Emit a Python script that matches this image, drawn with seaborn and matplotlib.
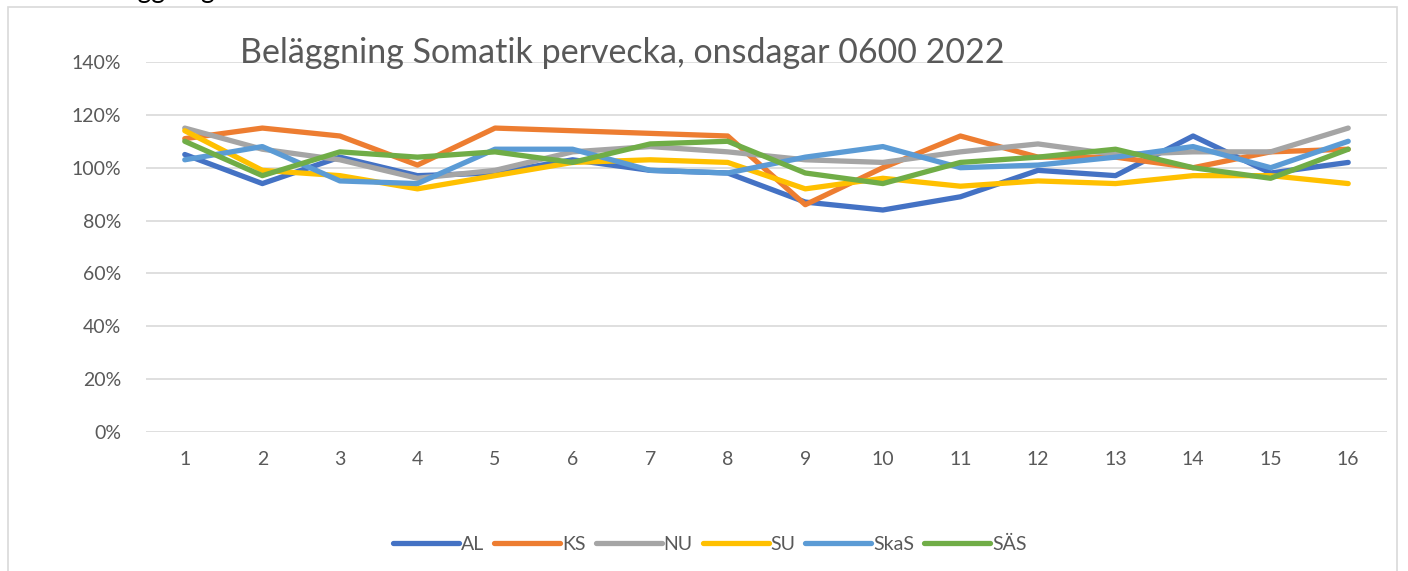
import numpy as np
import pandas as pd
import matplotlib
matplotlib.use("Agg")
import matplotlib.pyplot as plt
import seaborn as sns
from matplotlib.patches import Rectangle

# ==========================
# Data
# ==========================

weeks = list(range(1, 17))

AL   = [105, 94, 104, 97, 98, 103, 99, 98, 87, 84, 89, 99, 97, 112, 98, 102]
KS   = [111, 115, 112, 101, 115, 114, 113, 112, 86, 100, 112, 104, 104, 100, 106, 107]
NU   = [115, 107, 103, 96, 99, 106, 108, 106, 103, 102, 106, 109, 105, 106, 106, 115]
SU   = [114, 99, 97, 92, 97, 102, 103, 102, 92, 96, 93, 95, 94, 97, 97, 94]
SkaS = [103, 108, 95, 94, 107, 107, 99, 98, 104, 108, 100, 101, 104, 108, 100, 110]
SAS  = [110, 97, 106, 104, 106, 102, 109, 110, 98, 94, 102, 104, 107, 100, 96, 107]

series_names = ["AL", "KS", "NU", "SU", "SkaS", "SÄS"]
series_values = [AL, KS, NU, SU, SkaS, SAS]
colors = ["#4472C4", "#ED7D31", "#A5A5A5", "#FFC000", "#5B9BD5", "#70AD47"]

yticks = [0, 20, 40, 60, 80, 100, 120, 140]

rows = []
for name, vals in zip(series_names, series_values):
    for w, v in zip(weeks, vals):
        rows.append({"Vecka": w, "Beläggning": v / 100, "Sjukhus": name})
df = pd.DataFrame(rows)

# ==========================
# Plot
# ==========================

sns.set_style("white")
plt.rcParams["font.family"] = ["Lato", "DejaVu Sans"]

fig = plt.figure(figsize=(14.08, 5.71), dpi=100)
ax = fig.add_axes([146 / 1408, 1 - 432 / 571, (1387 - 146) / 1408, (432 - 62) / 571])

sns.lineplot(
    data=df, x="Vecka", y="Beläggning", hue="Sjukhus",
    palette=dict(zip(series_names, colors)), linewidth=3.8,
    ax=ax, legend=True
)
for ln in ax.get_lines():
    ln.set_solid_capstyle("round")
    ln.set_solid_joinstyle("round")

ax.set_xlim(0.5, 16.5)
ax.set_ylim(0, 1.4)
ax.set_xticks(weeks)
ax.set_xticklabels([str(w) for w in weeks])
ax.set_yticks([t / 100 for t in yticks])
ax.set_yticklabels([f"{t}%" for t in yticks])
ax.tick_params(axis="both", length=0, labelsize=14, colors="#595959")
ax.tick_params(axis="x", pad=14)
ax.tick_params(axis="y", pad=18)
ax.yaxis.grid(True, color="#D9D9D9", linewidth=1.2)
ax.set_axisbelow(True)
for s in ax.spines.values():
    s.set_visible(False)
ax.set_xlabel("")
ax.set_ylabel("")

fig.text(240 / 1408, 1 - 53 / 571, "Beläggning Somatik pervecka, onsdagar 0600 2022",
         fontsize=24.5, color="#595959", va="center", ha="left")

# clipped heading above the chart frame
fig.text(88 / 1408, 1 + 2 / 571, "Beläggning", fontsize=19, color="black",
         va="baseline", ha="left")

# chart frame
fig.patches.append(Rectangle((8 / 1408, -0.1), (1397 - 8) / 1408, 1.1 - 7 / 571,
                             transform=fig.transFigure, fill=False,
                             edgecolor="#D9D9D9", linewidth=1.2))

handles, labels = ax.get_legend_handles_labels()
ax.legend_.remove()
fig.legend(handles, labels, loc="center", bbox_to_anchor=(710 / 1408, 1 - 544 / 571),
           ncol=6, frameon=False, fontsize=14, handlelength=3.4,
           columnspacing=0.5, handletextpad=0.1, labelcolor="#595959")

fig.savefig("out.png", dpi=100)
